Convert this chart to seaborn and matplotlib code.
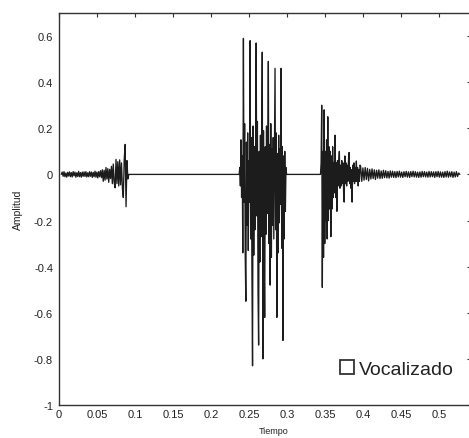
import numpy as np
import pandas as pd
import matplotlib
matplotlib.use("Agg")
import matplotlib.pyplot as plt
from matplotlib.lines import Line2D
import seaborn as sns

# --- waveform samples (amplitude values), grouped by segment ---
# each segment: start time [s], sample step [s], amplitudes
onset_t0, onset_dt = 0.003, 0.0012
onset_v = [
    0.0, 0.010, -0.008, 0.012, -0.010, 0.006, -0.012, 0.009, -0.007, 0.011,
    -0.010, 0.008, -0.011, 0.012, -0.006, 0.010, -0.012, 0.007, -0.009, 0.013,
    -0.010, 0.008, -0.012, 0.010, -0.008, 0.011, -0.009, 0.012, -0.011, 0.007,
    -0.010, 0.012, -0.008, 0.010, -0.013, 0.009, -0.010, 0.014, -0.012, 0.010,
    -0.015, 0.012, -0.010, 0.016, -0.014,
    0.020, -0.030, 0.018, -0.025, 0.030, -0.020, 0.025, -0.034, 0.022, -0.018,
    0.035, -0.040, 0.045, -0.035, -0.058, 0.065, -0.040, 0.055, -0.050, 0.063,
    -0.045, 0.050, -0.060, -0.100, 0.065, 0.130, -0.140, 0.060, -0.020, 0.0,
]

voiced_t0, voiced_dt = 0.237, 0.0008
voiced_v = [
    0.0, 0.03, -0.05, 0.15, -0.10, 0.08, -0.34, 0.59, -0.12, 0.22,
    -0.36, -0.55, 0.14, -0.22, 0.18, -0.33, 0.06, -0.12, 0.58, -0.28,
    0.16, -0.42, -0.83, 0.21, -0.35, 0.12, -0.24, 0.05, 0.57, -0.18,
    0.23, -0.50, -0.74, 0.10, -0.38, 0.17, -0.27, 0.08, 0.53, -0.80,
    0.19, -0.33, -0.62, 0.12, -0.26, 0.21, -0.17, 0.04, 0.49, -0.30,
    0.13, -0.48, 0.22, -0.36, 0.11, -0.22, 0.16, -0.28, 0.07, 0.46,
    -0.24, 0.18, -0.62, 0.09, -0.34, 0.17, -0.21, 0.11, -0.13, 0.46,
    -0.32, 0.12, -0.72, 0.08, -0.28, 0.10, -0.16, 0.03, 0.0,
]

burst_t0, burst_dt = 0.344, 0.0008
burst_v = [
    0.0, 0.05, 0.30, -0.49, 0.10, -0.36, 0.28, -0.30, 0.10, -0.20,
    0.15, -0.28, 0.25, -0.20, 0.12, -0.15, 0.10, -0.27, 0.08, -0.15,
    0.12, -0.10, 0.05, -0.08, 0.17, -0.10, 0.05, -0.16, 0.06, -0.05,
    0.05, 0.10, -0.06, 0.04, -0.05, 0.06, -0.04, 0.05, -0.08, -0.12,
    0.08, -0.04, 0.05, -0.05, 0.04, -0.03, 0.06, 0.095, -0.04, 0.03,
    -0.06, 0.02, -0.12, 0.04, -0.03, 0.05, -0.04, 0.03, -0.03, 0.058,
    -0.03, 0.03, -0.05, 0.02, -0.03, 0.04,
]

tail_t0, tail_dt = 0.3968, 0.0015
tail_v = [
    0.035, -0.030, 0.028, -0.025, 0.030, -0.022, 0.026, -0.028, 0.022, -0.020,
    0.024, -0.018, 0.020, -0.022, 0.018, -0.016, 0.020, -0.018, 0.015, -0.017,
    0.018, -0.014, 0.016, -0.015, 0.013, -0.016, 0.015, -0.012, 0.014, -0.013,
    0.012, -0.014, 0.013, -0.011, 0.014, -0.012, 0.010, -0.013, 0.012, -0.010,
    0.013, -0.012, 0.011, -0.013, 0.012, -0.010, 0.014, -0.011, 0.012, -0.012,
    0.010, -0.013, 0.011, -0.012, 0.013, -0.010, 0.012, -0.011, 0.010, -0.012,
    0.013, -0.011, 0.012, -0.010, 0.011, -0.013, 0.012, -0.010, 0.013, -0.012,
    0.011, -0.012, 0.010, -0.013, 0.012, -0.011, 0.014, -0.012, 0.011, -0.010,
    0.012, -0.013, 0.010, -0.011, 0.012, -0.009, 0.006, 0.0,
]

x_ticks = [0, 0.05, 0.1, 0.15, 0.2, 0.25, 0.3, 0.35, 0.4, 0.45, 0.5]
x_tick_labels = ["0", "0.05", "0.1", "0.15", "0.2", "0.25", "0.3",
                 "0.35", "0.4", "0.45", "0.5"]
y_ticks = [-1, -0.8, -0.6, -0.4, -0.2, 0, 0.2, 0.4, 0.6]
y_tick_labels = ["-1", "-0.8", "-0.6", "-0.4", "-0.2", "0", "0.2", "0.4", "0.6"]
legend_label = "Vocalizado"

# --- assemble the sampled signal ---
segments = [
    (onset_t0, onset_dt, onset_v),
    (voiced_t0, voiced_dt, voiced_v),
    (burst_t0, burst_dt, burst_v),
    (tail_t0, tail_dt, tail_v),
]
t = np.concatenate([t0 + dt * np.arange(len(v)) for t0, dt, v in segments])
amp = np.concatenate([np.asarray(v, dtype=float) for _, _, v in segments])
df = pd.DataFrame({"Tiempo": t, "Amplitud": amp})

sns.set_theme(style="white")
plt.rcParams["font.family"] = ["Liberation Sans", "DejaVu Sans"]

fig = plt.figure(figsize=(4.69, 4.39), dpi=100)
W, H = 469, 439
ax = fig.add_axes([59 / W, 1 - 406 / H, (471 - 59) / W, (406 - 14) / H])

sns.lineplot(data=df, x="Tiempo", y="Amplitud", estimator=None, sort=False,
             color="#1c1c1c", linewidth=0.95, ax=ax)

ax.set_xlim(0, 0.542)
ax.set_ylim(-1, 0.7)
ax.set_xticks(x_ticks)
ax.set_xticklabels(x_tick_labels)
ax.set_yticks(y_ticks)
ax.set_yticklabels(y_tick_labels)
ax.tick_params(axis="both", direction="in", length=3.2, width=0.8,
               top=True, right=True, labelsize=8, color="#333333",
               labelcolor="#222222")
ax.tick_params(axis="x", pad=3)
ax.tick_params(axis="y", pad=4.3)
for side in ax.spines.values():
    side.set_color("#333333")
    side.set_linewidth(1.0)

ax.set_xlabel("Tiempo", fontsize=6.5, color="#222222")
ax.xaxis.set_label_coords(0.52, -0.054)
ax.set_ylabel("Amplitud", fontsize=7.5, color="#222222")
ax.yaxis.set_label_coords(-0.088, 0.5)

handle = Line2D([], [], marker="s", linestyle="none", markersize=10,
                markerfacecolor="white", markeredgecolor="#333333",
                markeredgewidth=1.3)
ax.legend(handles=[handle], labels=[legend_label], loc="center left",
          bbox_to_anchor=(0.680, 0.0918), frameon=False, fontsize=14,
          handlelength=0.8, handletextpad=0.2, borderpad=0,
          borderaxespad=0, labelcolor="#222222")

fig.savefig("out.png", dpi=100)
